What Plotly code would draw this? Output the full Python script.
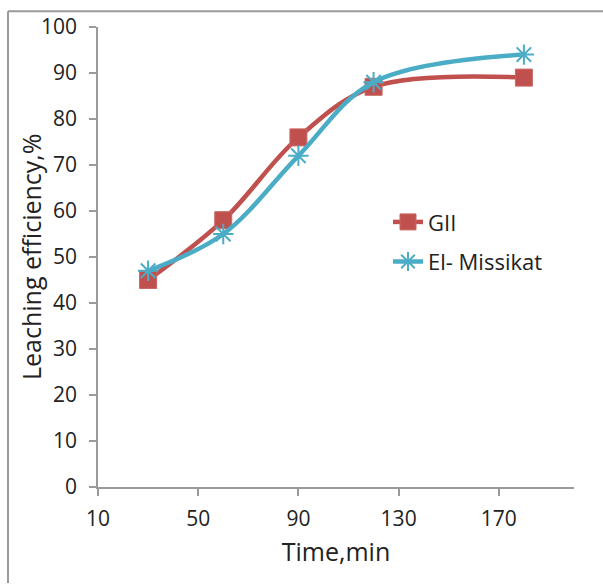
import plotly.graph_objects as go

time_min = [30, 60, 90, 120, 180]
gii = [45, 58, 76, 87, 89]
el_missikat = [47, 55, 72, 88, 94]
x_ticks = [10, 50, 90, 130, 170]
y_ticks = [0, 10, 20, 30, 40, 50, 60, 70, 80, 90, 100]

RED = "#C0504D"
BLUE = "#4BACC6"
AX = "#9A9A9A"
FONT = "Open Sans, Liberation Sans, sans-serif"

fig = go.Figure()
fig.add_trace(go.Scatter(
    x=time_min, y=gii, name="GII", mode="lines+markers",
    line=dict(color=RED, width=4.5, shape="spline", smoothing=1),
    marker=dict(symbol="square", size=17, color=RED, line=dict(color="#C86764", width=1)),
    legend="legend",
))
fig.add_trace(go.Scatter(
    x=time_min, y=el_missikat, name="El- Missikat", mode="lines+markers",
    line=dict(color=BLUE, width=4.5, shape="spline", smoothing=1),
    marker=dict(symbol="asterisk-open", size=17, color=BLUE, line=dict(color=BLUE, width=2)),
    legend="legend2",
))

W, H = 603, 584
L, R, T, B = 98, 29, 22, 97
pw = W - L - R
ph = H - T - B

def px(x):
    return (x - L) / pw

def py(y):
    return (H - B - y) / ph

fig.update_layout(
    width=W, height=H,
    margin=dict(l=L, r=R, t=T, b=B),
    paper_bgcolor="white", plot_bgcolor="white",
    font=dict(family=FONT, size=21, color="#222222"),
    xaxis=dict(
        range=[10, 200], tickvals=x_ticks, ticks="outside", ticklen=7, tickcolor=AX, tickwidth=1.5,
        showline=True, linecolor=AX, linewidth=1.5, showgrid=False, zeroline=False,
        ticklabelstandoff=5,
        title=dict(text="Time,min", font=dict(size=25), standoff=13),
    ),
    yaxis=dict(
        range=[0, 100], tickvals=y_ticks, ticks="outside", ticklen=7, tickcolor=AX, tickwidth=1.5,
        showline=True, linecolor=AX, linewidth=1.5, showgrid=False, zeroline=False,
        ticklabelstandoff=8,
    ),
    annotations=[dict(
        text="Leaching efficiency,%", textangle=-90, xref="paper", yref="paper",
        x=px(31), y=0.5, xanchor="center", yanchor="middle", showarrow=False,
        font=dict(size=25),
    )],
    legend=dict(x=px(388), y=py(198), xanchor="left", yanchor="top",
                bgcolor="rgba(0,0,0,0)", font=dict(size=22)),
    legend2=dict(x=px(388), y=py(238), xanchor="left", yanchor="top",
                 bgcolor="rgba(0,0,0,0)", font=dict(size=22)),
    showlegend=True,
    shapes=[
        dict(type="line", xref="paper", yref="paper", x0=px(8), x1=px(603), y0=py(6), y1=py(6),
             line=dict(color="#9A9A9A", width=2)),
        dict(type="line", xref="paper", yref="paper", x0=px(8), x1=px(8), y0=py(6), y1=py(584),
             line=dict(color="#9A9A9A", width=2)),
    ],
)

fig.write_html("out.html", config={"displayModeBar": False},
               post_script="document.body.style.margin='0';document.body.style.padding='0';")
